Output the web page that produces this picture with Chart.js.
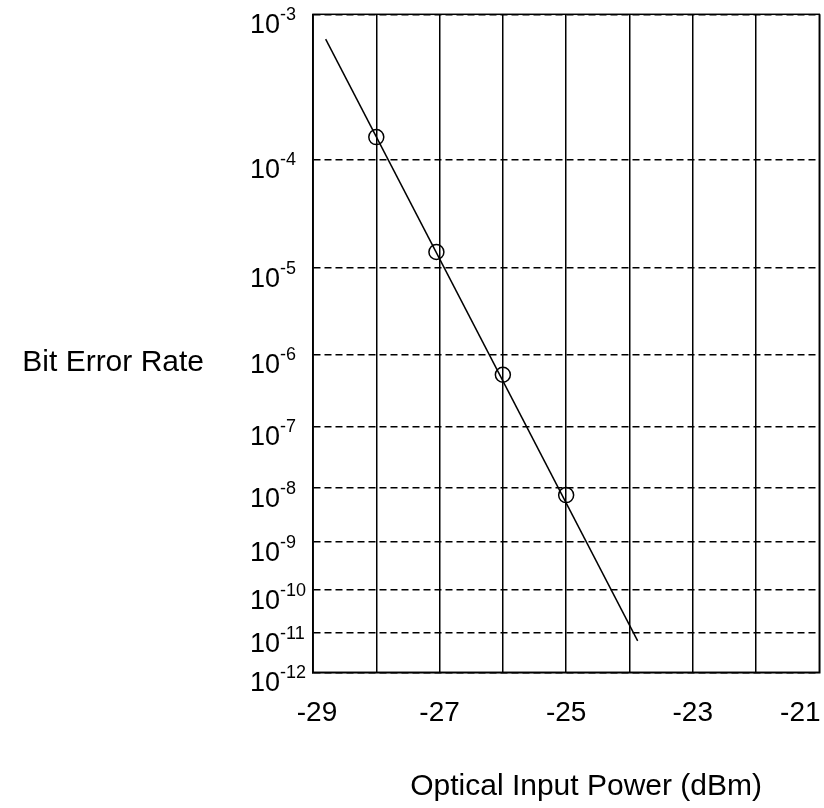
<!DOCTYPE html>
<html>
<head>
<meta charset="utf-8">
<script src="https://cdn.jsdelivr.net/npm/chart.js@4/dist/chart.umd.min.js"></script>
<style>
  body { margin: 0; background: #fff; }
  #wrap { width: 824px; height: 808px; position: relative; }
</style>
</head>
<body>
<div id="wrap"><canvas id="berChart"></canvas></div>
<script>
// measured points
const powerDbm = [-28, -27.05, -26, -25];
const berMeasured = [1.5e-4, 1.45e-5, 5.4e-7, 7.5e-9];

// fitted line, read at its two ends
const fitPower = [-28.8, -23.87];
const fitBer = [7.1e-4, 6.4e-12];

const xTickLabels = [-29, -27, -25, -23, -21];
const yTickExps = [-3, -4, -5, -6, -7, -8, -9, -10, -11, -12];

const FONT = '"Liberation Sans", Arial, sans-serif';

// BER paper: position = log10(-log10(BER) - 0.5)
const berPos = (b) => Math.log10(-Math.log10(b) - 0.5);

const labelPlugin = {
  id: "berLabels",
  afterDraw(chart) {
    const { ctx, chartArea: a, scales } = chart;
    const x = scales.x, y = scales.y;
    ctx.save();
    ctx.strokeStyle = "#000";
    ctx.lineWidth = 1.5;
    ctx.strokeRect(a.left, a.top, a.right - a.left, a.bottom - a.top);

    ctx.fillStyle = "#000";
    ctx.textBaseline = "alphabetic";

    // y tick labels 10^n
    ctx.textAlign = "left";
    yTickExps.forEach((e) => {
      const py = y.getPixelForValue(berPos(Math.pow(10, e)));
      ctx.font = "27px " + FONT;
      ctx.fillText("10", 250, py + 19);
      const w = ctx.measureText("10").width;
      ctx.font = "18px " + FONT;
      ctx.fillText(String(e), 250 + w, py + 6);
    });

    // x tick labels
    ctx.textAlign = "center";
    ctx.font = "28px " + FONT;
    xTickLabels.forEach((v) => {
      const px = x.getPixelForValue(v);
      const cx = Math.min(Math.max(px, a.left + 4), a.right - 19);
      ctx.fillText(String(v), cx, 721);
    });

    // axis titles
    ctx.font = "30px " + FONT;
    ctx.textAlign = "right";
    ctx.fillText("Bit Error Rate", 204, 371);
    ctx.fillText("Optical Input Power (dBm)", 762, 795);
    ctx.restore();
  },
};

const ctx = document.getElementById("berChart");

new Chart(ctx, {
  type: "scatter",
  data: {
    datasets: [
      {
        data: fitPower.map((p, i) => ({ x: p, y: berPos(fitBer[i]) })),
        showLine: true,
        borderColor: "#000",
        borderWidth: 1.5,
        pointRadius: 0,
      },
      {
        data: powerDbm.map((p, i) => ({ x: p, y: berPos(berMeasured[i]) })),
        pointStyle: "circle",
        pointRadius: 7.5,
        pointBorderWidth: 1.5,
        pointBorderColor: "#000",
        pointBackgroundColor: "rgba(0,0,0,0)",
      },
    ],
  },
  options: {
    responsive: true,
    maintainAspectRatio: false,
    animation: false,
    layout: {
      autoPadding: false,
      padding: { left: 313, right: 4.7, top: 14.3, bottom: 135.7 },
    },
    plugins: {
      legend: { display: false },
      tooltip: { enabled: false },
    },
    scales: {
      x: {
        type: "linear",
        min: -29,
        max: -21,
        ticks: { display: false, stepSize: 1 },
        grid: { color: "#000", lineWidth: 1.5, drawTicks: false },
        border: { color: "#000", width: 1.5 },
      },
      y: {
        type: "linear",
        reverse: true,
        min: berPos(1e-3),
        max: berPos(1e-12),
        afterBuildTicks: (scale) => {
          scale.ticks = yTickExps.map((e) => ({ value: berPos(Math.pow(10, e)) }));
        },
        ticks: { display: false },
        grid: { color: "#000", lineWidth: 1.5, drawTicks: false },
        border: { color: "#000", width: 1.5, dash: [7, 4] },
      },
    },
  },
  plugins: [labelPlugin],
});
</script>
</body>
</html>
